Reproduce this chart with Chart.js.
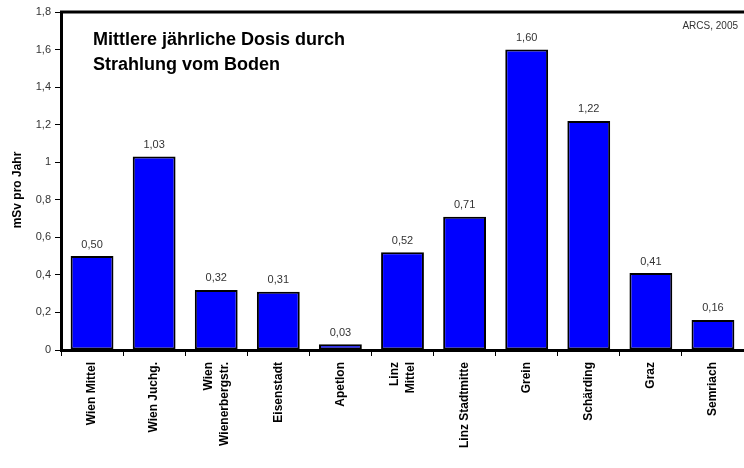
<!DOCTYPE html>
<html>
<head>
<meta charset="utf-8">
<script src="https://cdn.jsdelivr.net/npm/chart.js@4"></script>
<style>
  html, body { margin: 0; padding: 0; background: #fff; }
  #wrap { width: 744px; height: 468px; }
</style>
</head>
<body>
<div id="wrap"><canvas id="dosisChart" width="744" height="468"></canvas></div>
<script>
  var orte = ["Wien Mittel", "Wien Juchg.", ["Wien", "Wienerbergstr."], "Eisenstadt", "Apetlon",
              ["Linz", "Mittel"], "Linz Stadtmitte", "Grein", "Schärding", "Graz", "Semriach"];
  var dosis = [0.50, 1.03, 0.32, 0.31, 0.03, 0.52, 0.71, 1.60, 1.22, 0.41, 0.16];
  var titelZeilen = ["Mittlere jährliche Dosis durch", "Strahlung vom Boden"];
  var quelle = "ARCS, 2005";

  function komma(v, stellen) {
    return v.toFixed(stellen).replace('.', ',');
  }

  // Werte über den Balken, Achsenbeschriftung unten, Titel und Rahmen oben
  var extras = {
    id: 'extras',
    afterDatasetsDraw: function(chart) {
      var ctx = chart.ctx;
      var meta = chart.getDatasetMeta(0);
      var area = chart.chartArea;
      var xScale = chart.scales.x;
      ctx.save();
      ctx.fillStyle = '#333';
      ctx.font = '11px "Liberation Sans", Arial, sans-serif';
      ctx.textAlign = 'center';
      ctx.textBaseline = 'bottom';
      meta.data.forEach(function(bar, i) {
        ctx.fillText(komma(dosis[i], 2), bar.x, bar.y - 6);
      });

      // Kategorien, gedreht, mehrzeilig mittig um die Kategorie
      ctx.fillStyle = '#000';
      ctx.font = 'bold 12px "Liberation Sans", Arial, sans-serif';
      ctx.textAlign = 'right';
      ctx.textBaseline = 'middle';
      orte.forEach(function(ort, i) {
        var zeilen = Array.isArray(ort) ? ort : [ort];
        var cx = xScale.getPixelForValue(i);
        var lh = 16;
        zeilen.forEach(function(z, k) {
          var x = cx + (k - (zeilen.length - 1) / 2) * lh;
          ctx.save();
          ctx.translate(x, area.bottom + 12);
          ctx.rotate(-Math.PI / 2);
          ctx.fillText(z, 0, 0);
          ctx.restore();
        });
      });

      ctx.strokeStyle = '#000';
      ctx.lineWidth = 3;
      ctx.beginPath();
      ctx.moveTo(area.left - 1, area.top);
      ctx.lineTo(area.right, area.top);
      ctx.stroke();

      ctx.fillStyle = '#000';
      ctx.textAlign = 'left';
      ctx.textBaseline = 'alphabetic';
      ctx.font = 'bold 18px "Liberation Sans", Arial, sans-serif';
      ctx.fillText(titelZeilen[0], area.left + 32, area.top + 33);
      ctx.fillText(titelZeilen[1], area.left + 32, area.top + 58);

      ctx.fillStyle = '#333';
      ctx.textAlign = 'right';
      ctx.font = '10px "Liberation Sans", Arial, sans-serif';
      ctx.fillText(quelle, area.right - 6, area.top + 17);

      // y-Achsentitel
      ctx.fillStyle = '#000';
      ctx.textAlign = 'center';
      ctx.textBaseline = 'middle';
      ctx.font = 'bold 12px "Liberation Sans", Arial, sans-serif';
      ctx.translate(18, 190);
      ctx.rotate(-Math.PI / 2);
      ctx.fillText('mSv pro Jahr', 0, 0);
      ctx.restore();
    }
  };

  var ctxDosis = document.getElementById("dosisChart").getContext("2d");

  var myBarChart = new Chart(ctxDosis, {
    type: 'bar',
    data: {
      labels: orte,
      datasets: [{
        data: dosis,
        backgroundColor: '#0000ff',
        borderColor: '#000',
        borderWidth: 2,
        borderSkipped: false,
        barPercentage: 0.69,
        categoryPercentage: 1
      }]
    },
    options: {
      responsive: false,
      animation: false,
      layout: { padding: { top: 12, right: 0, bottom: 0, left: 0 } },
      plugins: {
        legend: { display: false },
        tooltip: { enabled: false }
      },
      scales: {
        x: {
          grid: { display: true, drawOnChartArea: false, drawTicks: true, tickLength: 6, color: '#000', offset: true },
          border: { display: true, color: '#000', width: 3 },
          ticks: {
            autoSkip: false,
            maxRotation: 0,
            callback: function() { return ''; }
          },
          afterFit: function(scale) { scale.height = 118; }
        },
        y: {
          min: 0,
          max: 1.8,
          ticks: {
            stepSize: 0.2,
            padding: 4,
            color: '#333',
            font: { family: '"Liberation Sans", Arial, sans-serif', size: 11 },
            callback: function(v) {
              var r = Math.round(v * 10) / 10;
              return Number.isInteger(r) ? String(r) : komma(r, 1);
            }
          },
          grid: { display: true, drawOnChartArea: false, drawTicks: true, tickLength: 6, color: '#000' },
          border: { display: true, color: '#000', width: 3 },
          afterFit: function(scale) { scale.width = 61; }
        }
      }
    },
    plugins: [extras]
  });
</script>
</body>
</html>
